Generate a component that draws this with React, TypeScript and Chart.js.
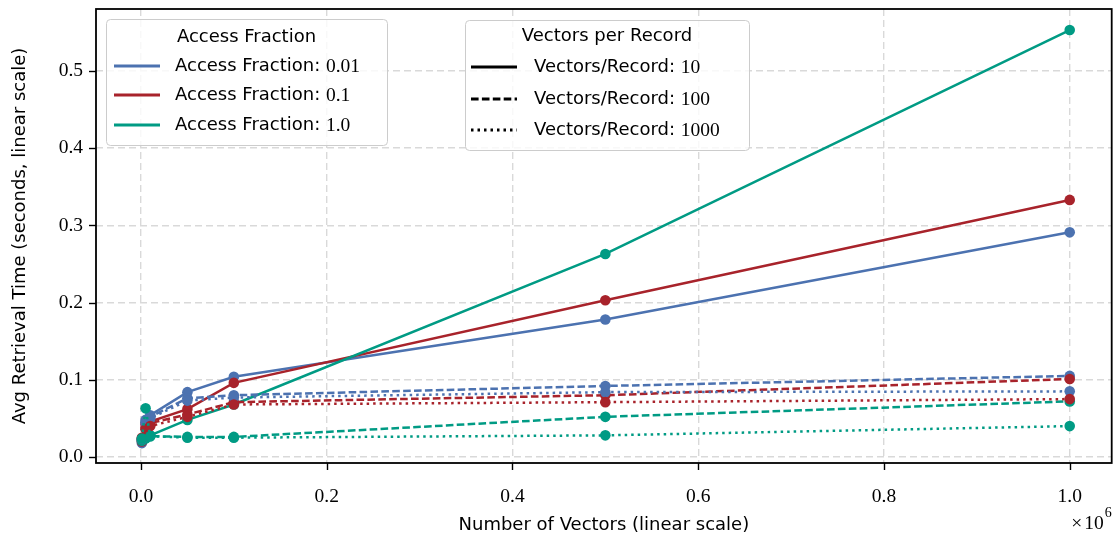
import React, { useEffect, useRef } from "react";
import { Chart, registerables } from "chart.js";

Chart.register(...registerables);

// ---------------- data ----------------
const numVectors = [1000, 5000, 10000, 50000, 100000, 500000, 1000000];
const accessFractions = ["0.01", "0.1", "1.0"];
const vectorsPerRecord = ["10", "100", "1000"];
const xTickValues = [0, 200000, 400000, 600000, 800000, 1000000];
const yTickValues = [0, 0.1, 0.2, 0.3, 0.4, 0.5];

// access fraction 0.01
const af001_v10 = [0.018, 0.045, 0.054, 0.084, 0.104, 0.178, 0.291];
const af001_v100 = [0.022, 0.048, 0.052, 0.076, 0.080, 0.092, 0.105];
const af001_v1000 = [0.024, 0.044, 0.050, 0.073, 0.077, 0.084, 0.085];
// access fraction 0.1
const af01_v10 = [0.020, 0.038, 0.046, 0.062, 0.096, 0.203, 0.333];
const af01_v100 = [0.023, 0.042, 0.044, 0.055, 0.071, 0.080, 0.101];
const af01_v1000 = [0.025, 0.036, 0.040, 0.052, 0.068, 0.071, 0.075];
// access fraction 1.0
const af1_v10 = [0.021, 0.024, 0.028, 0.048, 0.068, 0.263, 0.553];
const af1_v100 = [0.022, 0.025, 0.027, 0.026, 0.026, 0.052, 0.072];
const af1_v1000 = [0.024, 0.063, 0.027, 0.025, 0.025, 0.028, 0.040];

const seriesGrid = [
  [af001_v10, af001_v100, af001_v1000],
  [af01_v10, af01_v100, af01_v1000],
  [af1_v10, af1_v100, af1_v1000],
];

// ---------------- styles ----------------
const COLORS = ["#4c72b0", "#a8232b", "#009b84"];
const DASHES = [[], [7.6, 3.3], [2.5, 4.0]];
const SANS = '"DejaVu Sans", sans-serif';
const SERIF = '"Liberation Serif", "DejaVu Serif", serif';
const FONT_PX = 18;
const NUM_PX = 19.5;

function drawLegendBox(
  ctx: CanvasRenderingContext2D,
  box: { x: number; y: number; w: number; h: number },
  title: string,
  titleCx: number,
  titleY: number,
  rows: { y: number; color: string; dash: number[]; prefix: string; num: string }[],
  handleX0: number,
  handleX1: number,
  textX: number
) {
  ctx.save();
  const r = 4;
  ctx.beginPath();
  ctx.moveTo(box.x + r, box.y);
  ctx.lineTo(box.x + box.w - r, box.y);
  ctx.arcTo(box.x + box.w, box.y, box.x + box.w, box.y + r, r);
  ctx.lineTo(box.x + box.w, box.y + box.h - r);
  ctx.arcTo(box.x + box.w, box.y + box.h, box.x + box.w - r, box.y + box.h, r);
  ctx.lineTo(box.x + r, box.y + box.h);
  ctx.arcTo(box.x, box.y + box.h, box.x, box.y + box.h - r, r);
  ctx.lineTo(box.x, box.y + r);
  ctx.arcTo(box.x, box.y, box.x + r, box.y, r);
  ctx.closePath();
  ctx.fillStyle = "rgba(255,255,255,0.8)";
  ctx.fill();
  ctx.strokeStyle = "#cccccc";
  ctx.lineWidth = 1;
  ctx.stroke();

  ctx.fillStyle = "#000";
  ctx.textBaseline = "middle";
  ctx.textAlign = "center";
  ctx.font = `${FONT_PX}px ${SANS}`;
  ctx.fillText(title, titleCx, titleY);

  ctx.textAlign = "left";
  for (const row of rows) {
    ctx.beginPath();
    ctx.setLineDash(row.dash);
    ctx.strokeStyle = row.color;
    ctx.lineWidth = 2.8;
    ctx.moveTo(handleX0, row.y);
    ctx.lineTo(handleX1, row.y);
    ctx.stroke();
    ctx.setLineDash([]);
    ctx.font = `${FONT_PX}px ${SANS}`;
    ctx.fillText(row.prefix, textX, row.y);
    const w = ctx.measureText(row.prefix).width;
    ctx.font = `${NUM_PX}px ${SERIF}`;
    ctx.fillText(row.num, textX + w, row.y + 1);
  }
  ctx.restore();
}

const decorPlugin = {
  id: "decor",
  afterDraw(chart: any) {
    const ctx: CanvasRenderingContext2D = chart.ctx;
    const { left, right, top, bottom } = chart.chartArea;
    const xs = chart.scales.x;
    const ys = chart.scales.y;
    ctx.save();
    // frame
    ctx.strokeStyle = "#000";
    ctx.lineWidth = 1.8;
    ctx.strokeRect(left, top, right - left, bottom - top);
    // tick marks
    ctx.lineWidth = 1.4;
    for (const v of yTickValues) {
      const py = Math.round(ys.getPixelForValue(v)) + 0.5;
      ctx.beginPath();
      ctx.moveTo(left - 7, py);
      ctx.lineTo(left, py);
      ctx.stroke();
    }
    for (const v of xTickValues) {
      const px = Math.round(xs.getPixelForValue(v)) + 0.5;
      ctx.beginPath();
      ctx.moveTo(px, bottom);
      ctx.lineTo(px, bottom + 7);
      ctx.stroke();
    }
    // axis titles
    ctx.fillStyle = "#000";
    ctx.font = `${FONT_PX}px ${SANS}`;
    ctx.textAlign = "center";
    ctx.textBaseline = "middle";
    ctx.fillText("Number of Vectors (linear scale)", (left + right) / 2, 525);
    ctx.save();
    ctx.translate(20, (top + bottom) / 2);
    ctx.rotate(-Math.PI / 2);
    ctx.fillText("Avg Retrieval Time (seconds, linear scale)", 0, 0);
    ctx.restore();
    // offset text x10^6, right-aligned to the axes' right edge
    ctx.textAlign = "left";
    ctx.font = `14px ${SERIF}`;
    const wSup = ctx.measureText("6").width;
    ctx.font = `${NUM_PX}px ${SERIF}`;
    const wTimes = ctx.measureText("\u00d7").width;
    const wTen = ctx.measureText("10").width;
    const startX = right - (wTimes + 2 + wTen + 1 + wSup);
    ctx.fillText("\u00d7", startX, 524);
    ctx.fillText("10", startX + wTimes + 2, 524);
    ctx.font = `14px ${SERIF}`;
    ctx.fillText("6", startX + wTimes + 2 + wTen + 1, 513);

    // legends
    drawLegendBox(
      ctx,
      { x: 106.5, y: 19.5, w: 281, h: 126 },
      "Access Fraction",
      246.5,
      37,
      accessFractions.map((af, i) => ({
        y: [66, 95, 125][i],
        color: COLORS[i],
        dash: [],
        prefix: "Access Fraction: ",
        num: af,
      })),
      114,
      160,
      175
    );
    drawLegendBox(
      ctx,
      { x: 465.5, y: 20.5, w: 284, h: 130 },
      "Vectors per Record",
      607,
      36,
      vectorsPerRecord.map((v, i) => ({
        y: [67, 99, 130][i],
        color: "#000",
        dash: DASHES[i],
        prefix: "Vectors/Record: ",
        num: v,
      })),
      471,
      517,
      534
    );
    ctx.restore();
  },
};

export default function App() {
  const canvasRef = useRef<HTMLCanvasElement | null>(null);

  useEffect(() => {
    const canvas = canvasRef.current;
    if (!canvas) return;

    // matplotlib draw order: V10 (blue, red, teal), V100 (...), V1000 (...)
    const ordered: any[] = [];
    for (let v = 0; v < vectorsPerRecord.length; v++) {
      for (let a = 0; a < accessFractions.length; a++) {
        ordered.push({
          label: `AF ${accessFractions[a]} / V ${vectorsPerRecord[v]}`,
          data: numVectors.map((x, k) => ({ x, y: seriesGrid[a][v][k] })),
          borderColor: COLORS[a],
          backgroundColor: COLORS[a],
          pointBackgroundColor: COLORS[a],
          pointBorderWidth: 0,
          pointRadius: 5.3,
          borderWidth: 2.5,
          borderDash: DASHES[v],
          fill: false,
          tension: 0,
        });
      }
    }
    // Chart.js draws dataset 0 last (on top), so reverse
    const datasets = ordered.reverse();

    const chart = new Chart(canvas, {
      type: "line",
      data: { datasets },
      options: {
        animation: false,
        responsive: false,
        devicePixelRatio: 1,
        layout: { padding: { left: 0, right: 4, top: 9, bottom: 0 } },
        plugins: { legend: { display: false }, tooltip: { enabled: false } },
        scales: {
          x: {
            type: "linear",
            min: -48400,
            max: 1045200,
            afterBuildTicks: (scale: any) => {
              scale.ticks = xTickValues.map((value) => ({ value }));
            },
            afterFit: (scale: any) => {
              scale.height = 75;
              scale.paddingLeft = 0;
              scale.paddingRight = 0;
            },
            grid: { color: "#d9d9d9", lineWidth: 1.4, drawTicks: false },
            border: { display: false, dash: [7, 4] },
            ticks: {
              padding: 22,
              color: "#000",
              font: { family: SERIF, size: NUM_PX },
              maxRotation: 0,
              autoSkip: false,
              callback: (v: any) => (Number(v) / 1e6).toFixed(1),
            },
          },
          y: {
            type: "linear",
            min: -0.0078,
            max: 0.5803,
            afterBuildTicks: (scale: any) => {
              scale.ticks = yTickValues.map((value) => ({ value }));
            },
            afterFit: (scale: any) => {
              scale.width = 96;
              scale.paddingTop = 0;
              scale.paddingBottom = 0;
            },
            grid: { color: "#d9d9d9", lineWidth: 1.4, drawTicks: false },
            border: { display: false, dash: [7, 4] },
            ticks: {
              padding: 13,
              color: "#000",
              font: { family: SERIF, size: NUM_PX },
              autoSkip: false,
              callback: (v: any) => Number(v).toFixed(1),
            },
          },
        },
      },
      plugins: [decorPlugin],
    });

    return () => chart.destroy();
  }, []);

  return (
    <div style={{ position: "absolute", left: 0, top: 0, width: 1117, height: 538, background: "#fff" }}>
      <canvas ref={canvasRef} width={1117} height={538} style={{ display: "block" }} />
    </div>
  );
}
